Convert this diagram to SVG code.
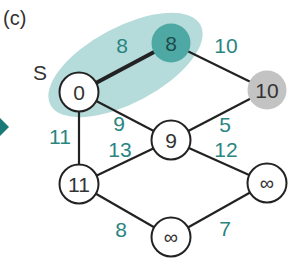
<svg xmlns="http://www.w3.org/2000/svg" width="290" height="261" viewBox="0 0 290 261">
<style>
.edge{stroke:#222;stroke-width:2.2;fill:none}
.thick{stroke-width:4}
.node{fill:#fff;stroke:#222;stroke-width:2}
.nt{font-family:"Liberation Sans",Arial,sans-serif;font-size:21px;fill:#333;text-anchor:middle}
.inf{font-size:20px}
.lbl{font-family:"Liberation Sans",Arial,sans-serif;font-size:21px;fill:#2a8580;text-anchor:middle}
.title{font-family:"Liberation Sans",Arial,sans-serif;font-size:20px;fill:#333}
</style>
<rect width="290" height="261" fill="#fff"/>
<polygon points="9,127 -6,112 -6,142" fill="#1a7a78"/>
<text class="title" x="3" y="25">(c)</text>
<ellipse cx="125.5" cy="65" rx="85" ry="38" transform="rotate(-28 125.5 65)" fill="#b5dcdb"/>
<g id="connectors">
<line class="edge thick" x1="79" y1="92" x2="171" y2="43"/>
<line class="edge" x1="171" y1="43" x2="267" y2="90"/>
<line class="edge" x1="267" y1="90" x2="171" y2="140"/>
<line class="edge" x1="79" y1="92" x2="171" y2="140"/>
<line class="edge" x1="79" y1="92" x2="79" y2="184"/>
<line class="edge" x1="79" y1="184" x2="171" y2="140"/>
<line class="edge" x1="171" y1="140" x2="267" y2="183"/>
<line class="edge" x1="79" y1="184" x2="171" y2="237"/>
<line class="edge" x1="171" y1="237" x2="267" y2="183"/>
</g>
<g id="labels">
<text class="lbl" x="122" y="53">8</text>
<text class="lbl" x="226" y="53">10</text>
<text class="lbl" x="60" y="144">11</text>
<text class="lbl" x="119" y="131">9</text>
<text class="lbl" x="120" y="157">13</text>
<text class="lbl" x="225" y="132">5</text>
<text class="lbl" x="226" y="157">12</text>
<text class="lbl" x="121" y="237">8</text>
<text class="lbl" x="225" y="236">7</text>
<text class="nt" x="40" y="80">S</text>
</g>
<g id="node-s">
<circle class="node" cx="79" cy="92" r="19.5"/>
<text class="nt" x="79" y="99.5">0</text>
</g>
<g id="node-a">
<circle cx="171" cy="43" r="19.5" fill="#4ea9a5"/>
<text class="nt" x="171" y="50.5" style="fill:#1f4d4a">8</text>
</g>
<g id="node-b">
<circle cx="267" cy="90" r="19.5" fill="#c3c3c3"/>
<text class="nt" x="267" y="97.5">10</text>
</g>
<g id="node-c">
<circle class="node" cx="171" cy="140" r="19.5"/>
<text class="nt" x="171" y="147.5">9</text>
</g>
<g id="node-d">
<circle class="node" cx="79" cy="184" r="19.5"/>
<text class="nt" x="79" y="191.5">11</text>
</g>
<g id="node-e">
<circle class="node" cx="267" cy="183" r="19.5"/>
<text class="nt inf" x="267" y="190">∞</text>
</g>
<g id="node-f">
<circle class="node" cx="171" cy="237" r="19.5"/>
<text class="nt inf" x="171" y="244">∞</text>
</g>
</svg>
